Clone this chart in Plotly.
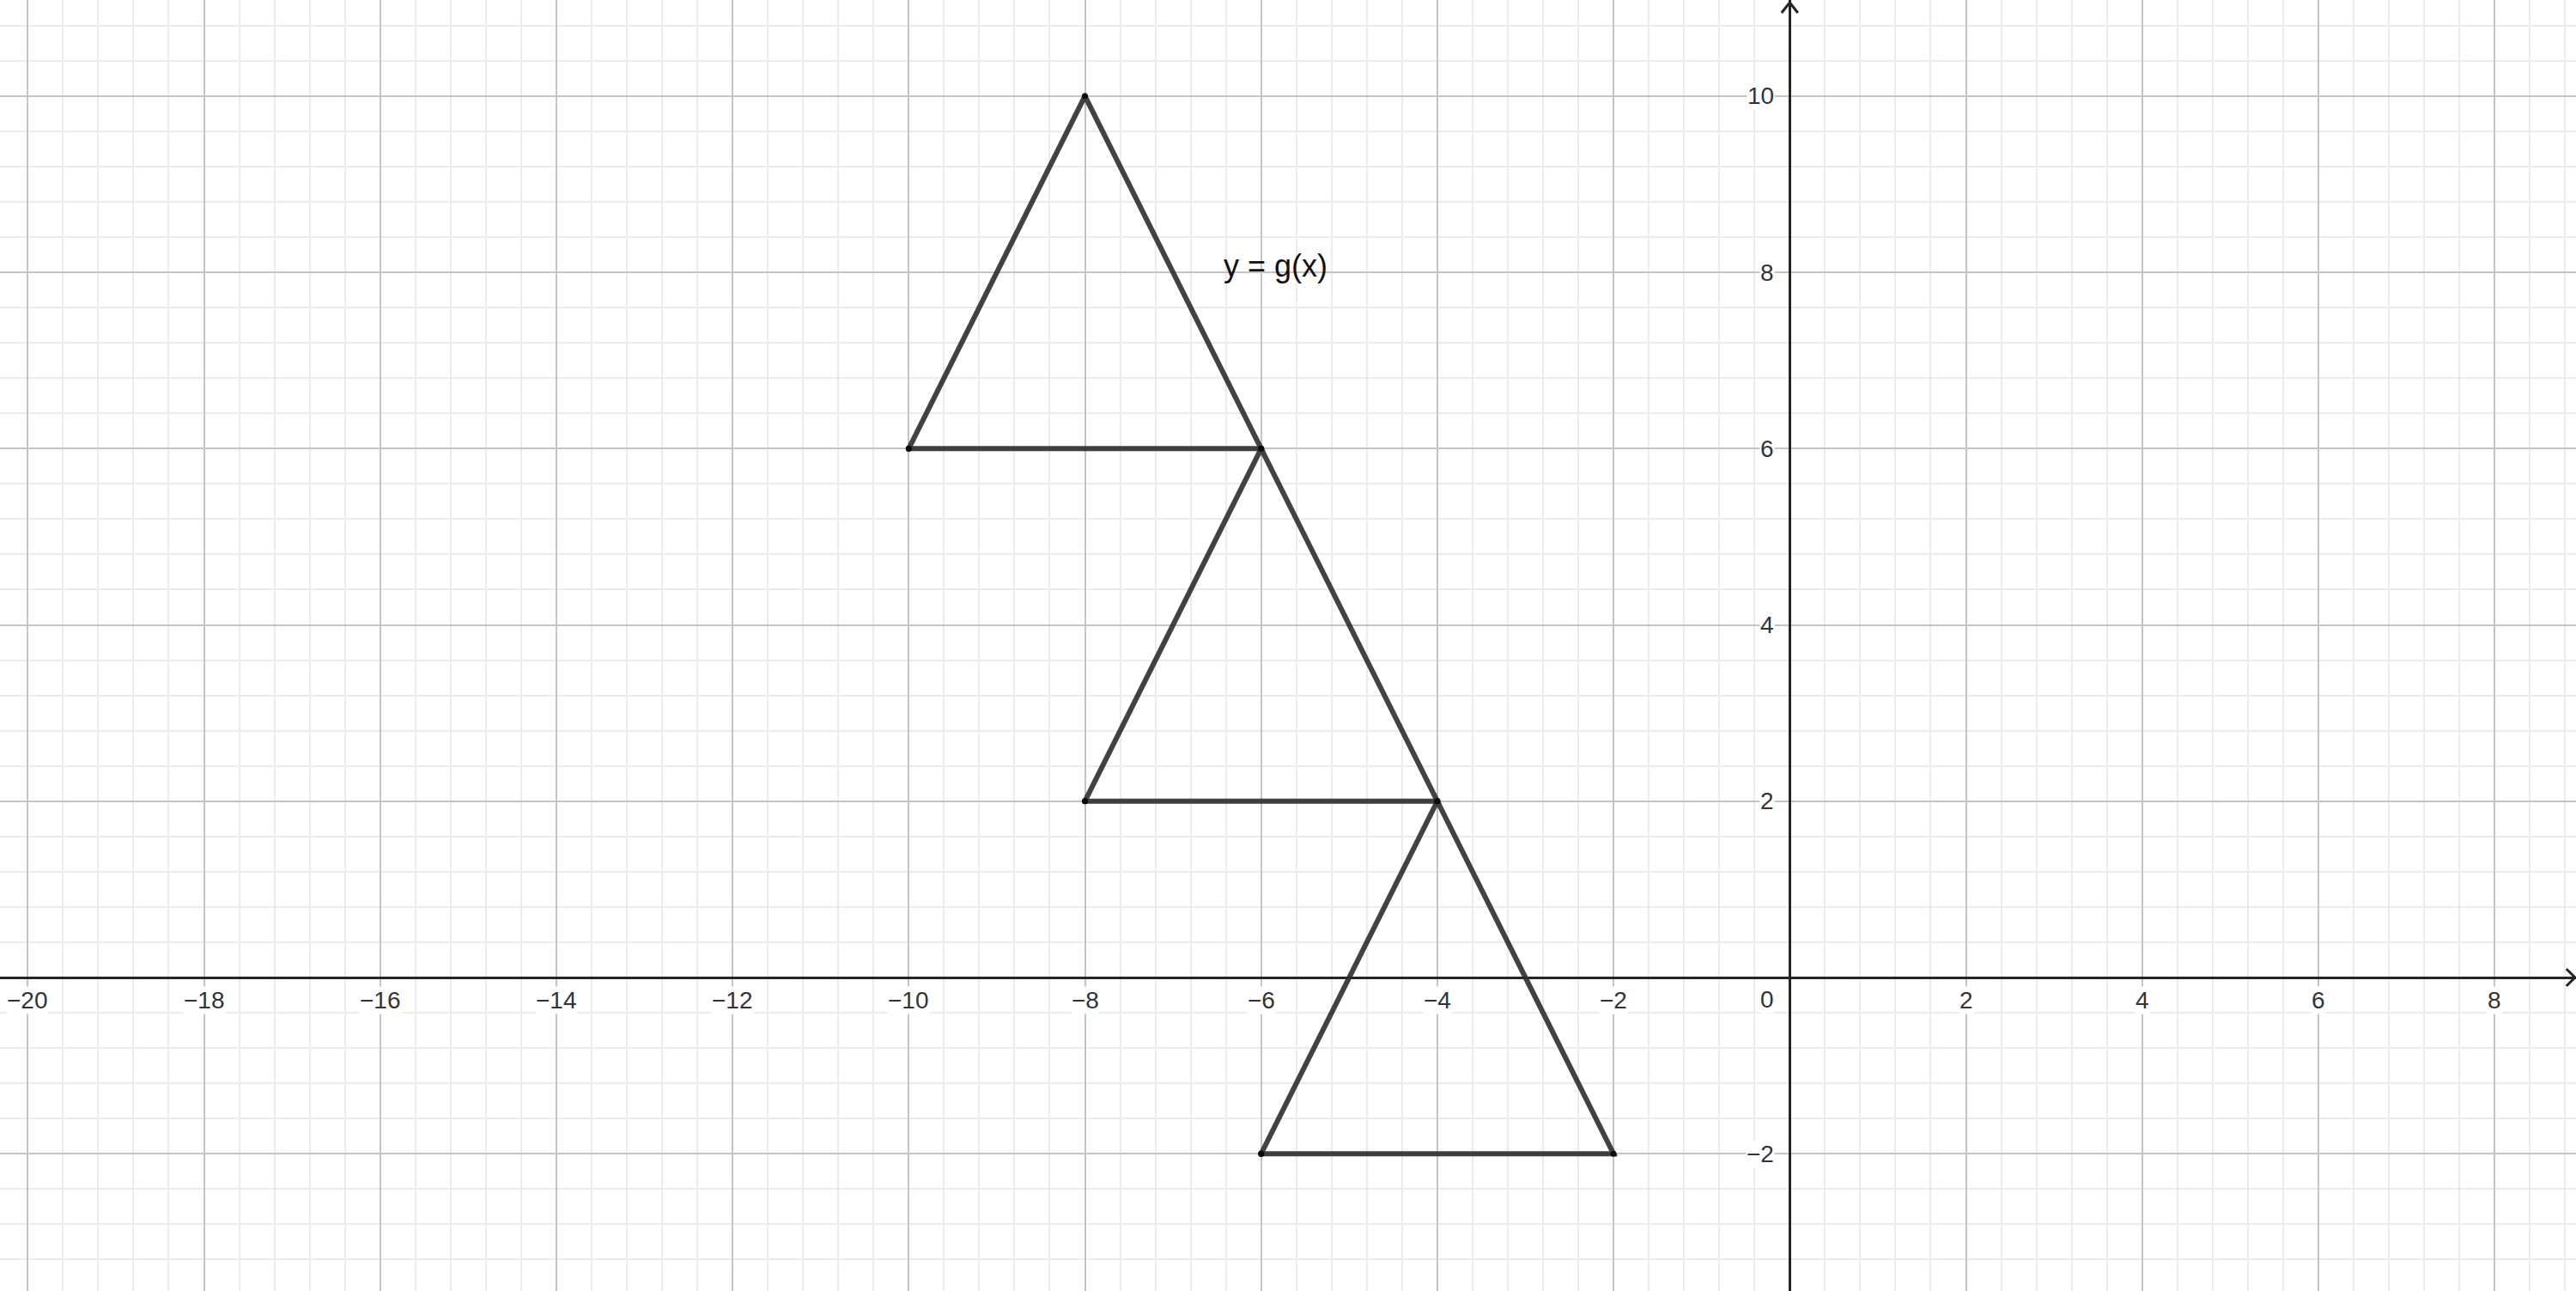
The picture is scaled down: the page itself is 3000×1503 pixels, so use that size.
import plotly.graph_objects as go

# --- data ---
tri1_x = [-10, -8, -6, -10]
tri1_y = [6, 10, 6, 6]
tri2_x = [-8, -6, -4, -8]
tri2_y = [2, 6, 2, 2]
tri3_x = [-6, -4, -2, -6]
tri3_y = [-2, 2, -2, -2]
x_ticks = [-20, -18, -16, -14, -12, -10, -8, -6, -4, -2, 2, 4, 6, 8]
y_ticks = [-2, 2, 4, 6, 8, 10]
label_text = "y = g(x)"
label_pos = (-5.84, 8.07)

X_RANGE = [-20.315, 8.925]
Y_RANGE = [-3.557, 11.09]
PX = 102.6  # pixels per unit

def lab(v):
    return ("\u2212" + str(abs(v))) if v < 0 else str(v)

fig = go.Figure()

line_style = dict(color="rgba(45,45,45,0.9)", width=6)
for tx, ty in [(tri1_x, tri1_y), (tri2_x, tri2_y), (tri3_x, tri3_y)]:
    fig.add_trace(go.Scatter(x=tx, y=ty, mode="lines+markers", line=line_style,
                             marker=dict(size=7, color="rgba(10,10,10,0.95)"),
                             hoverinfo="skip", showlegend=False))

# axis arrowheads (open chevrons)
u = 1.0 / PX
xt = X_RANGE[1] - 1.2 * u
fig.add_trace(go.Scatter(x=[xt - 10 * u, xt, xt - 10 * u], y=[10 * u, 0, -10 * u],
                         mode="lines", line=dict(color="#252525", width=3),
                         hoverinfo="skip", showlegend=False))
yt = Y_RANGE[1] - 3 * u
fig.add_trace(go.Scatter(x=[-9.5 * u, 0, 9.5 * u], y=[yt - 12 * u, yt, yt - 12 * u],
                         mode="lines", line=dict(color="#252525", width=3),
                         hoverinfo="skip", showlegend=False))

font = dict(family="Liberation Sans, Arial, sans-serif", size=28, color="#333333")
anns = []
for v in x_ticks:
    anns.append(dict(x=v, y=-0.255, text=lab(v), showarrow=False, xanchor="center",
                     yanchor="middle", font=font, bgcolor="white", borderpad=0))
anns.append(dict(x=-0.254, y=-0.245, text="0", showarrow=False, xanchor="center",
                 yanchor="middle", font=font, bgcolor="white", borderpad=0))
for v in y_ticks:
    anns.append(dict(x=-0.17, y=v, text=lab(v), showarrow=False, xanchor="right",
                     yanchor="middle", font=font, bgcolor="white", borderpad=0))
anns.append(dict(x=label_pos[0], y=label_pos[1], text=label_text, showarrow=False,
                 xanchor="center", yanchor="middle",
                 font=dict(family="Liberation Sans, Arial, sans-serif", size=36, color="#111111")))

axis_common = dict(showgrid=True, gridcolor="#c4c4c4", gridwidth=2,
                   zeroline=True, zerolinecolor="#252525", zerolinewidth=3,
                   showticklabels=False, ticks="", showline=False, fixedrange=True)

fig.update_layout(
    width=3000, height=1503,
    margin=dict(l=0, r=0, t=0, b=0),
    paper_bgcolor="white", plot_bgcolor="white",
    xaxis=dict(range=X_RANGE, dtick=2, tick0=0,
               minor=dict(dtick=0.4, tick0=0, showgrid=True, gridcolor="#ebebeb", gridwidth=2),
               **axis_common),
    yaxis=dict(range=Y_RANGE, dtick=2, tick0=0,
               minor=dict(dtick=0.4, tick0=0, showgrid=True, gridcolor="#ebebeb", gridwidth=2),
               **axis_common),
    annotations=anns,
    showlegend=False,
)

fig.write_html("out.html", config={"displayModeBar": False},
               post_script="document.body.style.margin='0px';document.body.style.overflow='hidden';")
